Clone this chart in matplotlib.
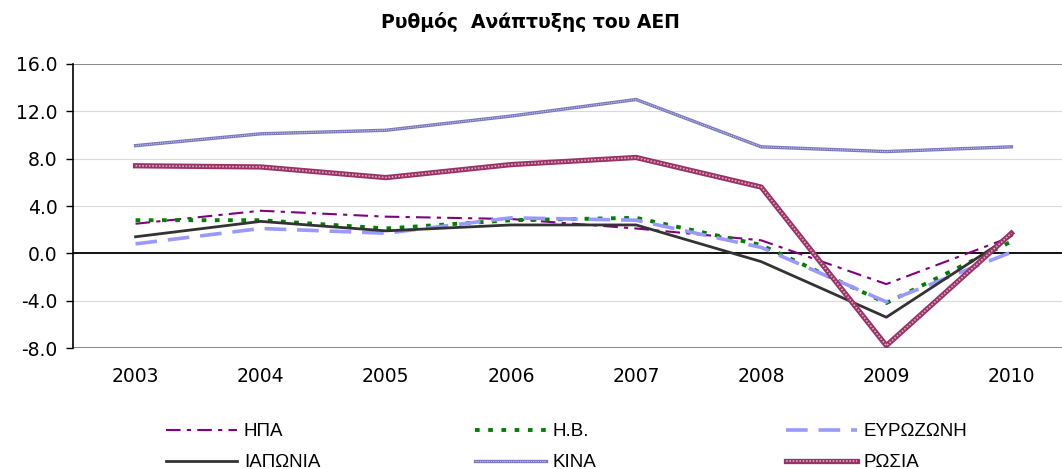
import numpy as np
import matplotlib
matplotlib.use("Agg")
import matplotlib.pyplot as plt

years = ["2003", "2004", "2005", "2006", "2007", "2008", "2009", "2010"]
usa = [2.5, 3.6, 3.1, 2.9, 2.1, 1.1, -2.6, 1.4]
uk = [2.8, 2.8, 2.1, 2.8, 3.0, 0.7, -4.2, 1.0]
eurozone = [0.8, 2.1, 1.7, 3.0, 2.8, 0.5, -4.1, 0.1]
japan = [1.4, 2.7, 1.9, 2.4, 2.4, -0.7, -5.4, 1.5]
china = [9.1, 10.1, 10.4, 11.6, 13.0, 9.0, 8.6, 9.0]
russia = [7.4, 7.3, 6.4, 7.5, 8.1, 5.6, -7.8, 1.7]
yticks = [-8, -4, 0, 4, 8, 12, 16]

fig = plt.figure(figsize=(10.62, 4.69), dpi=100)
ax = fig.add_axes([73 / 1062, 121 / 469, 1001 / 1062, 284 / 469])
x = np.arange(len(years))

# grid
for v in yticks:
    if v == 0:
        ax.axhline(v, color="black", lw=1.3, zorder=1)
    elif v in (-8, 16):
        ax.axhline(v, color="#8C8C8C", lw=1.5, zorder=1)
    else:
        ax.axhline(v, color="#DADADA", lw=0.8, zorder=1)

l_usa, = ax.plot(x, usa, color="#800080", lw=1.5, dashes=(7, 3, 2, 3), zorder=3)
l_uk, = ax.plot(x, uk, color="#008000", lw=2.8, dashes=(1.2, 2.2), zorder=3)
l_eu, = ax.plot(x, eurozone, color="#9999FF", lw=2.6, dashes=(6, 3), zorder=3)
l_jp, = ax.plot(x, japan, color="#333333", lw=2.0, zorder=3)
l_cn1, = ax.plot(x, china, color="#7878BC", lw=2.4, zorder=3)
l_cn2, = ax.plot(x, china, color="#C8C8EC", lw=0.8, dashes=(1, 1), zorder=3)
l_ru1, = ax.plot(x, russia, color="#993366", lw=3.8, zorder=4)
l_ru2, = ax.plot(x, russia, color="#E0A8C4", lw=1.2, dashes=(1, 1), zorder=4)

ax.set_xlim(-0.5, 7.5)
ax.set_ylim(-8, 16)
ax.set_yticks(yticks)
ax.set_yticklabels([f"{v:.1f}" for v in yticks])
ax.set_xticks(x)
ax.set_xticklabels(years)
ax.tick_params(axis="x", length=0, pad=14, labelsize=13.5)
ax.tick_params(axis="y", length=5, width=1, direction="out", labelsize=13.5, pad=6)
for s in ["top", "right", "bottom"]:
    ax.spines[s].set_visible(False)
ax.spines["left"].set_linewidth(1.2)

fig.text(530 / 1062, 1 - 22 / 469, "Ρυθμός  Ανάπτυξης του ΑΕΠ", ha="center", va="center",
         fontsize=13.5, fontweight="bold")

leg_font = {"family": ["Liberation Sans Narrow", "Liberation Sans", "DejaVu Sans"], "size": 13.5}
cols = [
    ([l_usa, l_jp], ["ΗΠΑ", "ΙΑΠΩΝΙΑ"], 166),
    ([l_uk, (l_cn1, l_cn2)], ["Η.Β.", "ΚΙΝΑ"], 475),
    ([l_eu, (l_ru1, l_ru2)], ["ΕΥΡΩΖΩΝΗ", "ΡΩΣΙΑ"], 786),
]
for handles, labels, xpos in cols:
    leg = fig.legend(handles, labels, loc="upper left",
                     bbox_to_anchor=(xpos / 1062, 1 - 423 / 469),
                     frameon=False, prop=leg_font, handlelength=3.8,
                     handletextpad=0.35, labelspacing=0.75, borderpad=0, borderaxespad=0)

fig.savefig("out.png", dpi=100)
